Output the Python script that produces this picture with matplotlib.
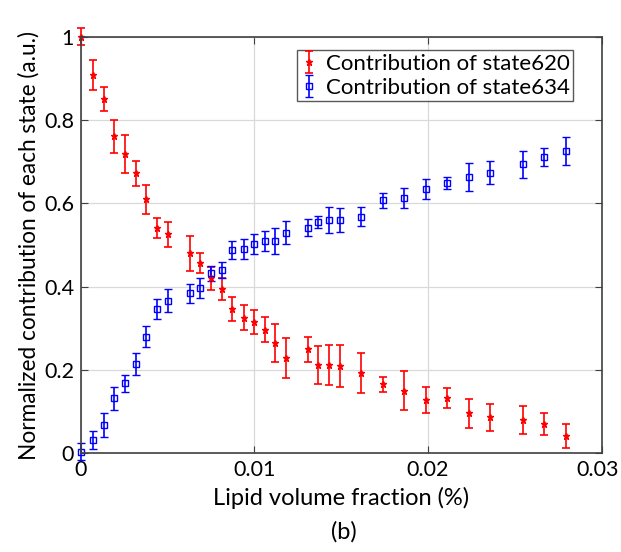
import matplotlib.pyplot as plt
from matplotlib.transforms import ScaledTranslation

# lipid volume fraction (%)
x = [0.0, 0.00067, 0.00133, 0.00192, 0.00254, 0.00315, 0.00376, 0.00438, 0.00503,
     0.00626, 0.00688, 0.00749, 0.00811, 0.00873, 0.00937, 0.00999, 0.0106, 0.0112,
     0.01182, 0.01306, 0.01368, 0.01429, 0.01491, 0.01616, 0.0174, 0.01864, 0.01988,
     0.02111, 0.02236, 0.02359, 0.02546, 0.02669, 0.02794]

# state620 contribution and error
s620 = [1.0, 0.908, 0.851, 0.761, 0.718, 0.672, 0.610, 0.541, 0.526,
        0.480, 0.457, 0.420, 0.394, 0.346, 0.325, 0.315, 0.296, 0.265,
        0.228, 0.250, 0.212, 0.212, 0.209, 0.192, 0.166, 0.150, 0.128,
        0.132, 0.096, 0.086, 0.080, 0.070, 0.042]
e620 = [0.02, 0.035, 0.029, 0.04, 0.046, 0.03, 0.035, 0.024, 0.03,
        0.042, 0.025, 0.027, 0.026, 0.029, 0.03, 0.028, 0.03, 0.045,
        0.048, 0.03, 0.045, 0.049, 0.051, 0.048, 0.018, 0.047, 0.031,
        0.024, 0.035, 0.032, 0.033, 0.026, 0.029]

# state634 contribution and error
s634 = [0.004, 0.032, 0.068, 0.132, 0.168, 0.214, 0.280, 0.346, 0.366,
        0.384, 0.397, 0.432, 0.440, 0.488, 0.490, 0.502, 0.510, 0.510,
        0.530, 0.542, 0.555, 0.560, 0.560, 0.568, 0.607, 0.613, 0.634,
        0.649, 0.663, 0.674, 0.694, 0.711, 0.726]
e634 = [0.02, 0.022, 0.028, 0.027, 0.02, 0.027, 0.026, 0.024, 0.028,
        0.023, 0.024, 0.018, 0.02, 0.022, 0.024, 0.024, 0.024, 0.031,
        0.028, 0.02, 0.015, 0.031, 0.029, 0.023, 0.019, 0.025, 0.024,
        0.014, 0.034, 0.027, 0.032, 0.021, 0.033]

plt.rcParams['font.family'] = ['Lato', 'DejaVu Sans']

fig = plt.figure(figsize=(6.21, 5.52), dpi=100)
ax = fig.add_axes([0.1304, 0.1788, 0.8382, 0.7547])

ax.errorbar(x, s620, yerr=e620, fmt='*', color='red', ms=5, capsize=3,
            elinewidth=1.2, capthick=1.2, label='Contribution of state620', clip_on=False)
ax.errorbar(x, s634, yerr=e634, fmt='s', color='blue', mfc='none', ms=4, mew=1,
            capsize=3, elinewidth=1.2, capthick=1.2, label='Contribution of state634', clip_on=False)

ax.set_xlim(0, 0.03)
ax.set_ylim(0, 1)
ax.set_xticks([0, 0.01, 0.02, 0.03])
ax.set_xticklabels(['0', '0.01', '0.02', '0.03'])
ax.set_yticks([0, 0.2, 0.4, 0.6, 0.8, 1])
ax.set_yticklabels(['0', '0.2', '0.4', '0.6', '0.8', '1'])
ax.tick_params(direction='in', top=True, right=True, labelsize=15.5, length=5,
               color='#404040', pad=5)
# last x label sits at the figure edge, nudge it inside
last = ax.get_xticklabels()[-1]
last.set_transform(last.get_transform() + ScaledTranslation(-4 / 100, 0, fig.dpi_scale_trans))
ax.grid(True, color='#d9d9d9', linewidth=0.9)
ax.set_axisbelow(True)
for sp in ax.spines.values():
    sp.set_color('#404040')
    sp.set_linewidth(1.2)

ax.set_xlabel('Lipid volume fraction (%)', fontsize=17, labelpad=5)
ax.set_ylabel('Normalized contribution of each state (a.u.)', fontsize=16.3, labelpad=3)

leg = ax.legend(loc='upper right', fontsize=16, frameon=True, fancybox=False,
                borderpad=0.15, handletextpad=0.35, handlelength=0.8, labelspacing=0.18,
                handleheight=0.6, borderaxespad=0, bbox_to_anchor=(0.945, 0.967))
leg.get_frame().set_edgecolor('#303030')
leg.get_frame().set_linewidth(1.0)

fig.text(0.553, 0.025, '(b)', ha='center', fontsize=17)

fig.savefig('out.png', dpi=100)
